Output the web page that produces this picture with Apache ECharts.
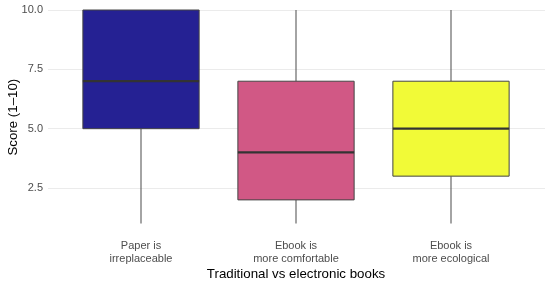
<!DOCTYPE html>
<html><head><meta charset="utf-8">
<script src="https://cdn.jsdelivr.net/npm/echarts@6/dist/echarts.min.js"></script>
<style>html,body{margin:0;padding:0;background:#fff}#c{width:550px;height:283px}</style>
</head><body><div id="c"></div>
<script>
const categories = ['Paper is\nirreplaceable', 'Ebook is\nmore comfortable', 'Ebook is\nmore ecological'];
const mins    = [1, 1, 1];
const q1s     = [5, 2, 3];
const medians = [7, 4, 5];
const q3s     = [10, 7, 7];
const maxs    = [10, 10, 10];
const fills   = ['#252193', '#D15885', '#F1FA37'];
const yTicks  = [2.5, 5, 7.5, 10];

const data = categories.map((c, i) => [i, mins[i], q1s[i], medians[i], q3s[i], maxs[i]]);
const font = 'Liberation Sans, Arial, sans-serif';
const TOP = 10, H = 224.3, YMIN = 0.55, YMAX = 10;

const chart = echarts.init(document.getElementById('c'), null, {renderer: 'canvas'});
chart.setOption({
  animation: false,
  grid: [
    {left: 48, right: 5, top: TOP, height: H, outerBoundsMode: 'none', containLabel: false},
    {left: 63.5, width: 465, top: TOP, height: H, outerBoundsMode: 'none', containLabel: false}
  ],
  xAxis: [
    {gridIndex: 0, type: 'value', show: false, min: 0, max: 1},
    {gridIndex: 1, type: 'category', data: categories,
     axisLine: {show: false}, axisTick: {show: false}, splitLine: {show: false},
     axisLabel: {color: '#4D4D4D', fontSize: 11, fontFamily: font, margin: 5, lineHeight: 13},
     name: 'Traditional vs electronic books', nameLocation: 'middle', nameGap: 34, nameMoveOverlap: false,
     nameTextStyle: {color: '#000', fontSize: 13.3, fontFamily: font}}
  ],
  yAxis: [
    {gridIndex: 0, type: 'value', min: YMIN, max: YMAX,
     axisLine: {show: false},
     axisTick: {show: false, customValues: yTicks},
     axisLabel: {customValues: yTicks, color: '#4D4D4D', fontSize: 11, fontFamily: font, margin: 5,
                 formatter: v => v.toFixed(1)},
     splitLine: {show: true, lineStyle: {color: '#EBEBEB', width: 1}},
     name: 'Score (1–10)', nameLocation: 'middle', nameGap: 28, nameMoveOverlap: false,
     nameTextStyle: {color: '#000', fontSize: 13.3, fontFamily: font, padding: [0, 0, 0, 10]}},
    {gridIndex: 1, type: 'value', min: YMIN, max: YMAX,
     axisLine: {show: false},
     axisTick: {show: false, customValues: yTicks},
     axisLabel: {show: false, customValues: yTicks},
     splitLine: {show: false}}
  ],
  series: [{
    type: 'custom', xAxisIndex: 1, yAxisIndex: 1, clip: false,
    data: data,
    encode: {x: 0, y: [1, 2, 3, 4, 5]},
    renderItem: function (params, api) {
      const i = api.value(0);
      const pMin = api.coord([i, api.value(1)]);
      const pQ1 = api.coord([i, api.value(2)]);
      const pMed = api.coord([i, api.value(3)]);
      const pQ3 = api.coord([i, api.value(4)]);
      const pMax = api.coord([i, api.value(5)]);
      const w = api.size([1, 0])[0] * 0.75;
      const x = pMed[0];
      const lineStyle = {stroke: '#595959', lineWidth: 1.1};
      return {
        type: 'group',
        children: [
          {type: 'line', shape: {x1: x, y1: pQ1[1], x2: x, y2: pMin[1]}, style: lineStyle},
          {type: 'line', shape: {x1: x, y1: pQ3[1], x2: x, y2: pMax[1]}, style: lineStyle},
          {type: 'rect', shape: {x: x - w / 2, y: pQ3[1], width: w, height: pQ1[1] - pQ3[1]},
           style: {fill: fills[params.dataIndex], stroke: '#444444', lineWidth: 1}},
          {type: 'line', shape: {x1: x - w / 2, y1: pMed[1], x2: x + w / 2, y2: pMed[1]},
           style: {stroke: '#333333', lineWidth: 2.2}}
        ]
      };
    }
  }]
});
</script></body></html>
